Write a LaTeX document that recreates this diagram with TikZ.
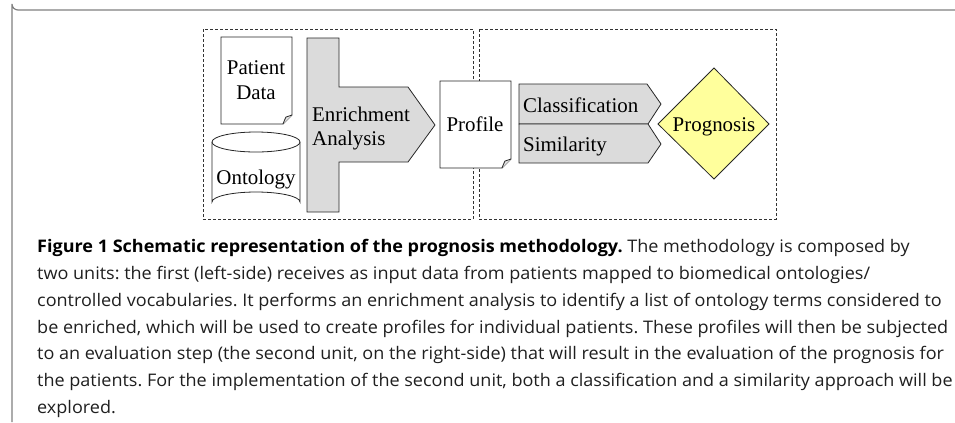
\documentclass[tikz,border=0pt]{standalone}
\usepackage{fontspec}
\setmainfont{Liberation Serif}
\newfontfamily\capfont[FakeStretch=1.04]{Open Sans}
\begin{document}
\frenchspacing
\begin{tikzpicture}[x=1bp,y=-1bp,
  shapeline/.style={draw=black!85, line width=0.8bp},
  unitbox/.style={draw=black!80, line width=0.7bp, dash pattern=on 3bp off 2bp},
  greyfill/.style={fill=black!14},
  lbl/.style={font=\fontsize{21}{24}\selectfont, inner sep=0pt, anchor=base},
  capline/.style={font=\capfont\fontsize{17.4}{20}\selectfont, inner sep=0pt, anchor=base west, text=black!88}
]
\useasboundingbox (0,0) rectangle (955,422);

% frame of the figure panel
\draw[black!50, line width=1.2bp] (955,10) -- (18,10) arc[start angle=90, end angle=180, radius=6] -- (12,422);

% the two units
\draw[unitbox] (203,29) rectangle (473,219);
\draw[unitbox] (479,29) rectangle (776,219);

% patient data document
\draw[shapeline, fill=white] (221,37) -- (292,37) -- (292,115) -- (283,124) -- (221,124) -- cycle;
\draw[shapeline, fill=black!12] (283,124) .. controls (285,119) .. (286,117) .. controls (289,116) .. (292,115);
\node[lbl] (patient) at (256,74) {Patient};
\node[lbl] (data) at (256,99) {Data};

% ontology database
\draw[shapeline, fill=white] (212,142) -- (212,202) arc[start angle=180, end angle=360, x radius=44, y radius=10] -- (300,142);
\draw[shapeline, fill=white] (256,142) ellipse[x radius=44, y radius=10];
\node[lbl] (onto) at (256,184) {Ontology};

% enrichment analysis
\draw[shapeline, greyfill] (307,38) -- (339,38) -- (339,87) -- (408,87) -- (435,125) -- (408,162) -- (339,162) -- (339,212) -- (307,212) -- cycle;
\node[lbl, anchor=base west] (enr) at (312,121) {Enrichment};
\node[lbl, anchor=base west] (ana) at (312,145) {Analysis};

% profile document
\draw[shapeline, fill=white] (440,81) -- (511,81) -- (511,159) -- (502,168) -- (440,168) -- cycle;
\draw[shapeline, fill=black!12] (502,168) .. controls (504,163) .. (505,161) .. controls (508,160) .. (511,159);
\node[lbl] (profile) at (475,131) {Profile};

% evaluation approaches
\draw[shapeline, greyfill] (519,84) -- (647,84) -- (661,104) -- (648,124) -- (519,124) -- cycle;
\draw[shapeline, greyfill] (519,124) -- (648,124) -- (661,144) -- (648,163) -- (519,163) -- cycle;
\node[lbl, anchor=base west] (cls) at (523,112) {Classification};
\node[lbl, anchor=base west] (sim) at (523,151) {Similarity};

% prognosis decision
\draw[shapeline, fill={rgb,255:red,255;green,255;blue,156}] (714,68) -- (769,124) -- (714,179) -- (658,124) -- cycle;
\node[lbl] (prog) at (714,131) {Prognosis};

% caption
\node[capline] (c1) at (37,252) {\textbf{\color{black}Figure 1 Schematic representation of the prognosis methodology.} The methodology is composed by};
\node[capline] (c2) at (37,279) {two units: the first (left-side) receives as input data from patients mapped to biomedical ontologies/};
\node[capline] (c3) at (37,306) {controlled vocabularies. It performs an enrichment analysis to identify a list of ontology terms considered to};
\node[capline] (c4) at (37,333) {be enriched, which will be used to create profiles for individual patients. These profiles will then be subjected};
\node[capline] (c5) at (37,359) {to an evaluation step (the second unit, on the right-side) that will result in the evaluation of the prognosis for};
\node[capline] (c6) at (37,386) {the patients. For the implementation of the second unit, both a classification and a similarity approach will be};
\node[capline] (c7) at (37,413) {explored.};
\end{tikzpicture}
\end{document}
